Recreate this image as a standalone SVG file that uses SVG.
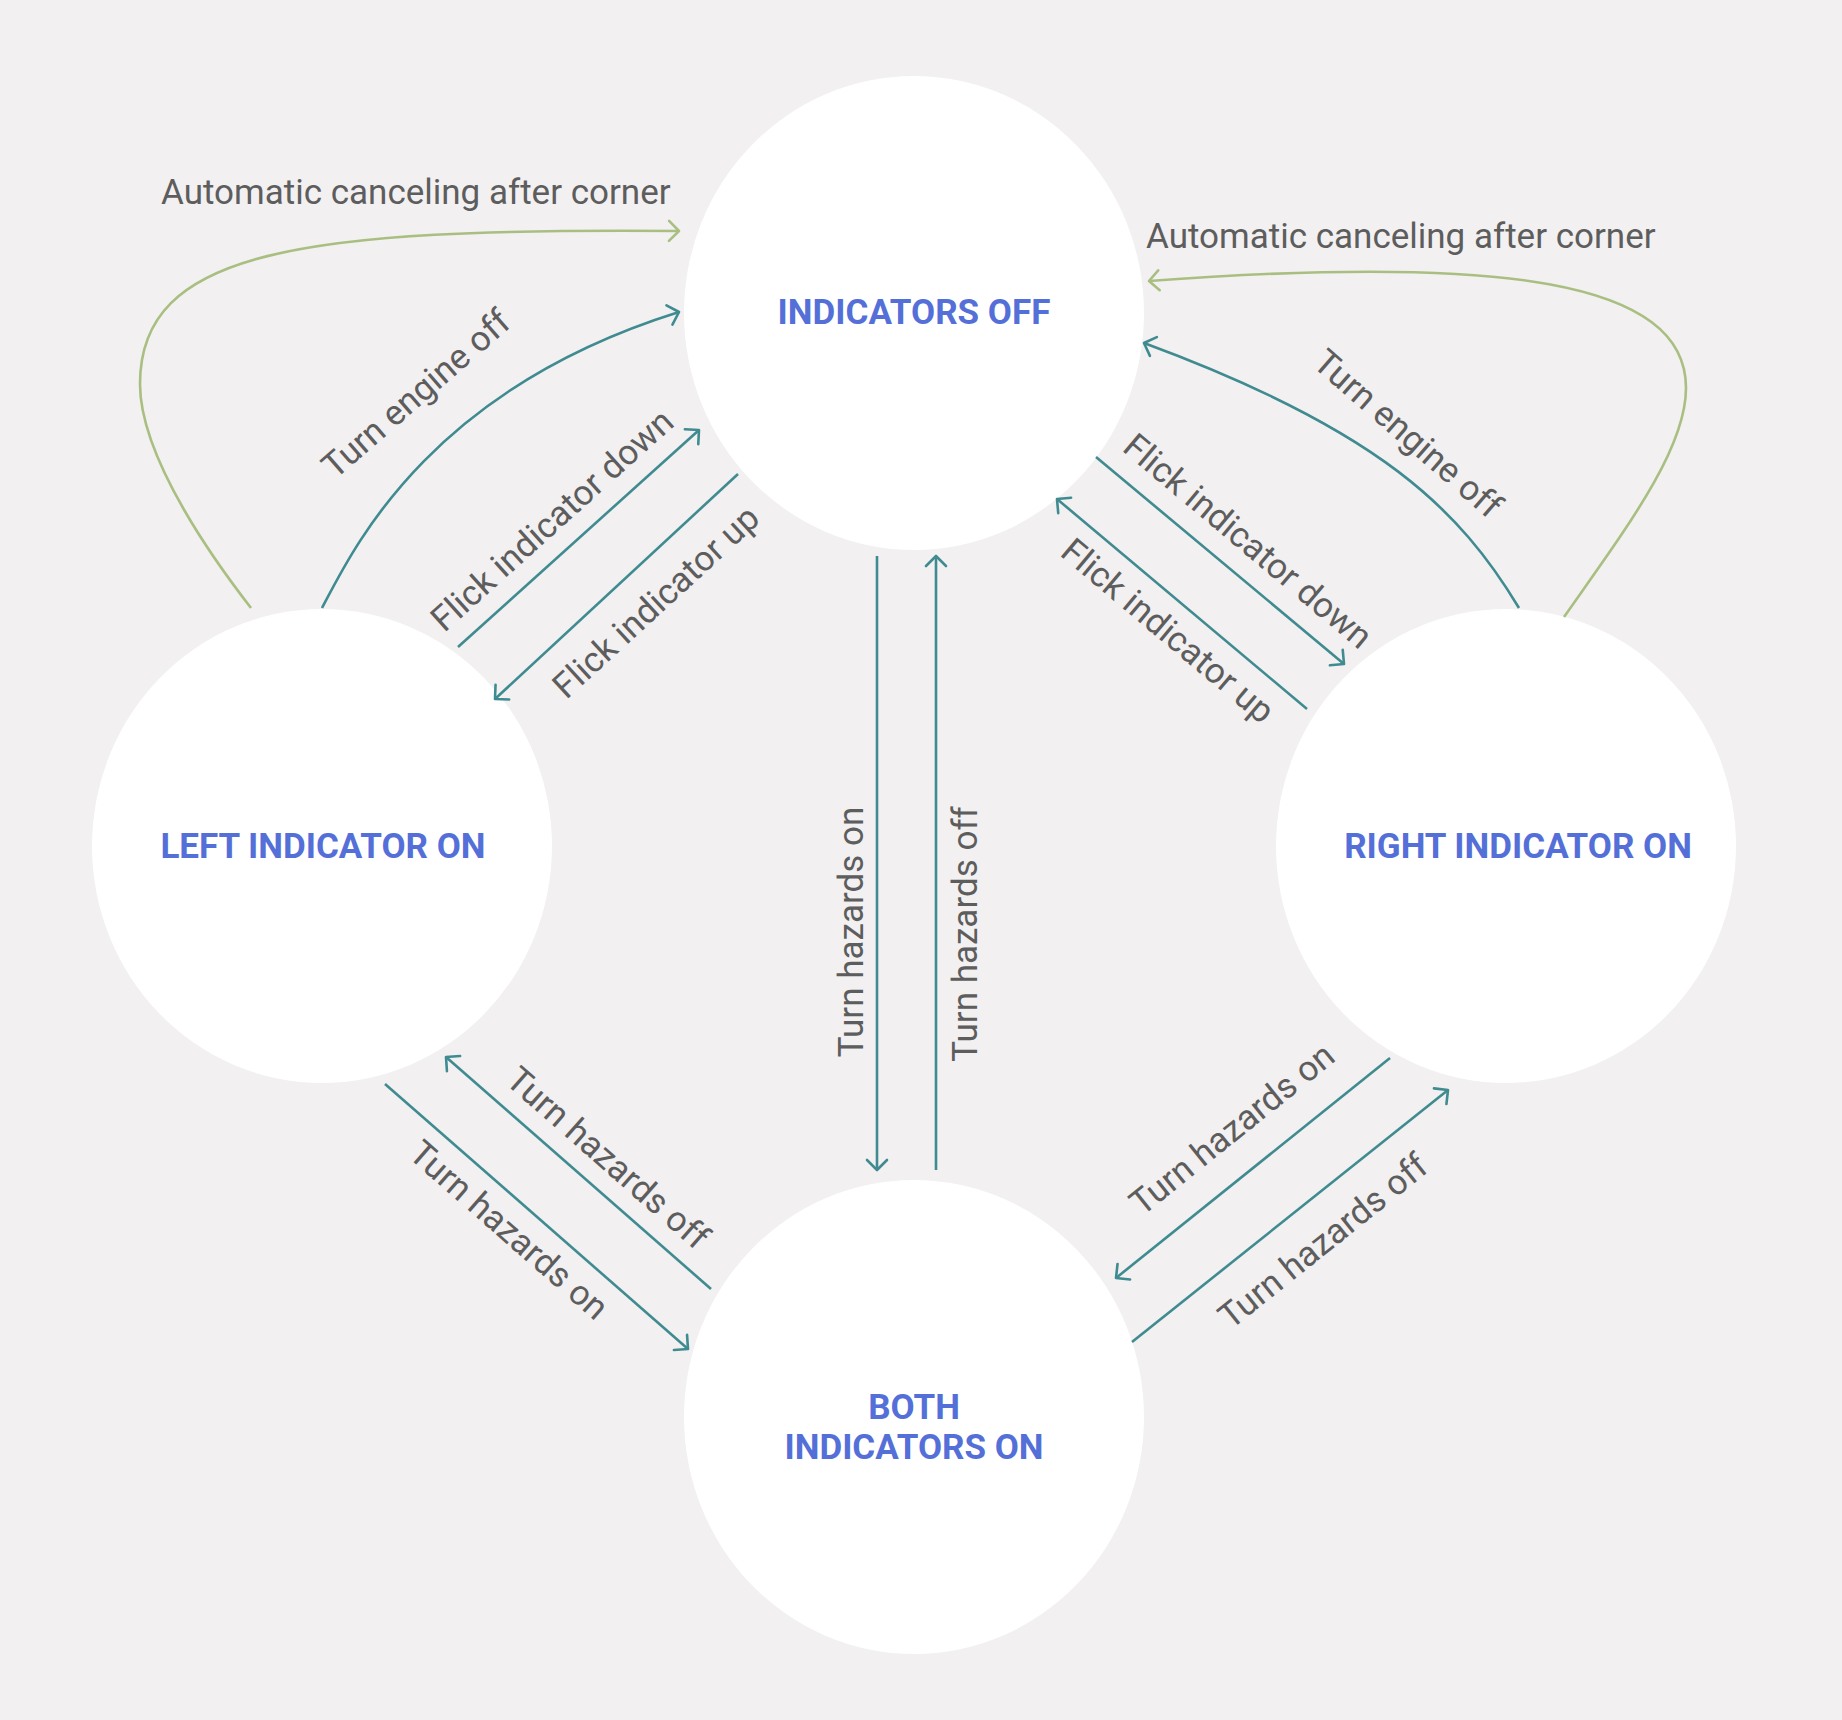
<svg xmlns="http://www.w3.org/2000/svg" width="1842" height="1720" viewBox="0 0 1842 1720">
<defs>
<style>
.node{fill:#ffffff;}
.nl{font-family:Roboto,"Liberation Sans",sans-serif;font-weight:700;font-size:35px;fill:#5470d8;text-anchor:middle;}
.el{font-family:Roboto,"Liberation Sans",sans-serif;font-weight:400;font-size:35px;fill:#5d5d5d;}
.ec{font-family:Roboto,"Liberation Sans",sans-serif;font-weight:400;font-size:35px;fill:#5d5d5d;text-anchor:middle;}
.t{fill:none;stroke:#3f8b90;stroke-width:2.6;marker-end:url(#at);}
.g{fill:none;stroke:#a9bf82;stroke-width:2.6;marker-end:url(#ag);}
</style>
<marker id="at" markerUnits="userSpaceOnUse" orient="auto" viewBox="-14 -14 28 28" markerWidth="28" markerHeight="28" refX="0" refY="0" overflow="visible">
<path d="M -10 -10 L 0 0 L -10 10" fill="none" stroke="#3f8b90" stroke-width="2.6" stroke-linecap="round" stroke-linejoin="round"/>
</marker>
<marker id="ag" markerUnits="userSpaceOnUse" orient="auto" viewBox="-14 -14 28 28" markerWidth="28" markerHeight="28" refX="0" refY="0" overflow="visible">
<path d="M -10 -10 L 0 0 L -10 10" fill="none" stroke="#a9bf82" stroke-width="2.6" stroke-linecap="round" stroke-linejoin="round"/>
</marker>
</defs>
<rect x="0" y="0" width="1842" height="1720" fill="#f2f0f1"/>
<g id="node-indicators-off">
<ellipse class="node" cx="914" cy="313" rx="230" ry="237"/>
<text class="nl" x="914" y="324">INDICATORS OFF</text>
</g>
<g id="node-left-indicator-on">
<ellipse class="node" cx="322" cy="846" rx="230" ry="237"/>
<text class="nl" x="323" y="858">LEFT INDICATOR ON</text>
</g>
<g id="node-right-indicator-on">
<ellipse class="node" cx="1506" cy="846" rx="230" ry="237"/>
<text class="nl" x="1518" y="858">RIGHT INDICATOR ON</text>
</g>
<g id="node-both-indicators-on">
<ellipse class="node" cx="914" cy="1417" rx="230" ry="237"/>
<text class="nl" x="914" y="1419">BOTH</text>
<text class="nl" x="914" y="1459">INDICATORS ON</text>
</g>
<g id="connectors">
<path class="g" d="M 251 608 C 220 568, 140 460, 140 384 C 140 250, 300 228, 679 231"/>
<path class="g" d="M 1564 617 C 1625 530, 1686 450, 1686 388 C 1686 280, 1500 255, 1149 281"/>
<path class="t" d="M 322 608 C 355 545, 430 390, 679 312"/>
<path class="t" d="M 1519 608 C 1460 510, 1380 430, 1144 343"/>
<path class="t" d="M 458 647 L 699 430"/>
<path class="t" d="M 738 474 L 495 699"/>
<path class="t" d="M 1096 457 L 1344 664"/>
<path class="t" d="M 1307 709 L 1057 499"/>
<path class="t" d="M 877 556 L 877 1170"/>
<path class="t" d="M 936 1170 L 936 556"/>
<path class="t" d="M 711 1289 L 446 1057"/>
<path class="t" d="M 385 1084 L 688 1349"/>
<path class="t" d="M 1390 1058 L 1116 1278"/>
<path class="t" d="M 1132 1342 L 1448 1090"/>
<text class="el" x="161" y="204">Automatic canceling after corner</text>
<text class="el" x="1146" y="248">Automatic canceling after corner</text>
<g transform="translate(418 396) rotate(-41)"><text class="ec" x="0" y="9">Turn engine off</text></g>
<g transform="translate(552 520) rotate(-42)"><text class="ec" x="0" y="12">Flick indicator down</text></g>
<g transform="translate(658 604) rotate(-42.5)"><text class="ec" x="0" y="9">Flick indicator up</text></g>
<g transform="translate(1406 436) rotate(41)"><text class="ec" x="0" y="9">Turn engine off</text></g>
<g transform="translate(1248 541) rotate(40)"><text class="ec" x="0" y="12">Flick indicator down</text></g>
<g transform="translate(1166 633) rotate(40)"><text class="ec" x="0" y="9">Flick indicator up</text></g>
<g transform="translate(851 932) rotate(-90)"><text class="ec" x="0" y="12">Turn hazards on</text></g>
<g transform="translate(965 934) rotate(-90)"><text class="ec" x="0" y="12">Turn hazards off</text></g>
<g transform="translate(608 1158) rotate(41.3)"><text class="ec" x="0" y="12">Turn hazards off</text></g>
<g transform="translate(509 1230) rotate(41.2)"><text class="ec" x="0" y="12">Turn hazards on</text></g>
<g transform="translate(1232 1129) rotate(-38.8)"><text class="ec" x="0" y="12">Turn hazards on</text></g>
<g transform="translate(1323 1241) rotate(-38.7)"><text class="ec" x="0" y="12">Turn hazards off</text></g>
</g>
</svg>
